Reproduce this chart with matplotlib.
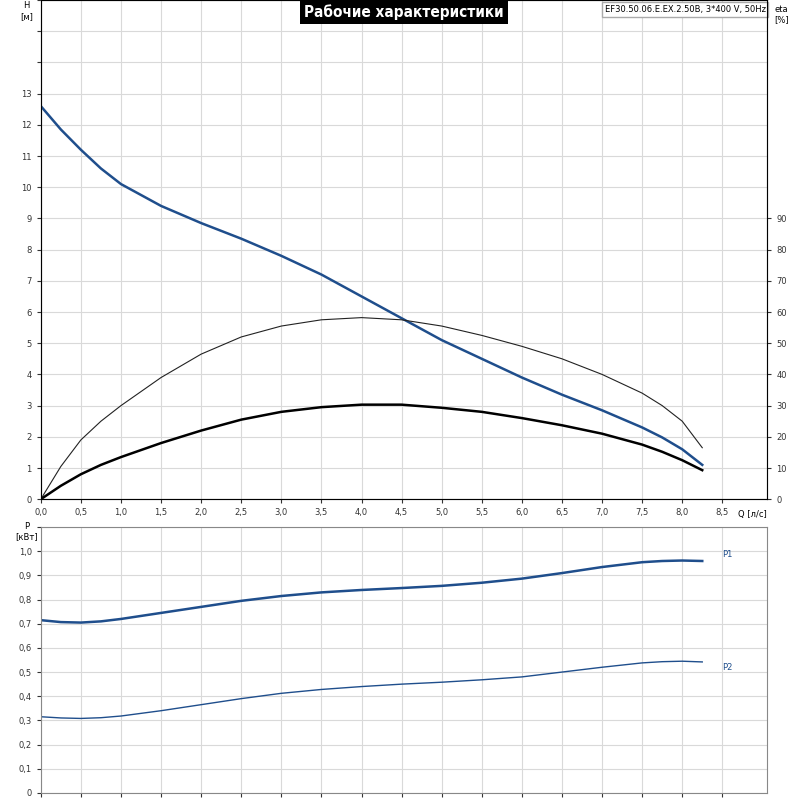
import numpy as np
import matplotlib.pyplot as plt

# flow points [l/s]
q = [0, 0.25, 0.5, 0.75, 1.0, 1.5, 2.0, 2.5, 3.0, 3.5, 4.0, 4.5, 5.0, 5.5, 6.0, 6.5, 7.0, 7.5, 7.75, 8.0, 8.25]
head = [12.6, 11.85, 11.2, 10.6, 10.1, 9.4, 8.85, 8.35, 7.8, 7.2, 6.5, 5.8, 5.1, 4.5, 3.9, 3.35, 2.85, 2.3, 1.98, 1.6, 1.1]
eta_pump = [0, 10.5, 19, 25, 30, 39, 46.5, 52, 55.5, 57.5, 58.2, 57.5, 55.5, 52.5, 49, 45, 40, 34, 30, 25, 16.5]
eta_total = [0, 4.3, 8, 11, 13.5, 18, 22, 25.5, 28, 29.5, 30.3, 30.3, 29.3, 28, 26, 23.7, 21, 17.5, 15.2, 12.5, 9.3]
p1 = [0.715, 0.707, 0.705, 0.71, 0.72, 0.745, 0.77, 0.795, 0.815, 0.83, 0.84, 0.848, 0.857, 0.87, 0.887, 0.91, 0.935, 0.955, 0.96, 0.962, 0.96]
p2 = [0.315, 0.31, 0.308, 0.311, 0.318, 0.34, 0.365, 0.39, 0.412, 0.428, 0.44, 0.45, 0.458, 0.468, 0.48, 0.5, 0.52, 0.538, 0.543, 0.545, 0.542]

blue = '#1f4e8c'
grid_c = '#d9d9d9'
fs = 6

fig = plt.figure(figsize=(8, 8), dpi=100)
ax = fig.add_axes([0.051, 0.376, 0.908, 0.624])
axp = fig.add_axes([0.051, 0.009, 0.908, 0.332])

xmax = 9.06
for a in (ax, axp):
    a.set_xlim(0, xmax)
    a.set_xticks(np.arange(0, 9.0, 0.5))
    a.grid(True, color=grid_c, lw=0.8)
    a.tick_params(labelsize=fs, length=3, colors='#333333')
    for s in a.spines.values():
        s.set_color('#888888')

ax.set_xticklabels([('%.1f' % v).replace('.', ',') for v in np.arange(0, 9.0, 0.5)])
ax.set_ylim(0, 16)
ax.set_yticks(range(0, 17))
ax.set_yticklabels([str(i) if i <= 13 else '' for i in range(17)])
ax.plot(q, head, color=blue, lw=1.8)
ax.plot(q, [e / 10 for e in eta_pump], color='#222222', lw=0.8)
ax.plot(q, [e / 10 for e in eta_total], color='black', lw=1.8)

ax2 = ax.twinx()
ax2.set_ylim(0, 160)
ax2.set_yticks(range(0, 100, 10))
ax2.tick_params(labelsize=fs, length=3, colors='#333333')

ax.text(-0.02, 0.997, 'H\n[м]', transform=ax.transAxes, fontsize=fs, ha='center', va='top')
ax2.text(1.02, 0.99, 'eta\n[%]', transform=ax.transAxes, fontsize=fs, ha='center', va='top')
ax.text(1.0, -0.022, 'Q [л/с]', transform=ax.transAxes, fontsize=fs, ha='right', va='top')
ax.text(0.5, 0.975, 'Рабочие характеристики', transform=ax.transAxes, fontsize=11,
        ha='center', va='center', color='white', fontweight='bold', fontstretch='condensed',
        bbox=dict(facecolor='black', edgecolor='none', pad=3))
ax.text(0.998, 0.99, 'EF30.50.06.E.EX.2.50B, 3*400 V, 50Hz', transform=ax.transAxes,
        fontsize=6, ha='right', va='top',
        bbox=dict(facecolor='white', edgecolor='#aaaaaa', pad=2))

axp.set_ylim(0, 1.1)
axp.set_yticks(np.arange(0, 1.11, 0.1))
axp.set_yticklabels(['0'] + [('%.1f' % v).replace('.', ',') for v in np.arange(0.1, 1.01, 0.1)] + [''])
axp.set_xticklabels([])
axp.plot(q, p1, color=blue, lw=1.8)
axp.plot(q, p2, color=blue, lw=1.0)
axp.text(8.5, 0.985, 'P1', fontsize=fs, color=blue, va='center')
axp.text(8.5, 0.52, 'P2', fontsize=fs, color=blue, va='center')
axp.text(-0.02, 1.02, 'P\n[кВт]', transform=axp.transAxes, fontsize=fs, ha='center', va='top')

fig.savefig('out.png', dpi=100)
